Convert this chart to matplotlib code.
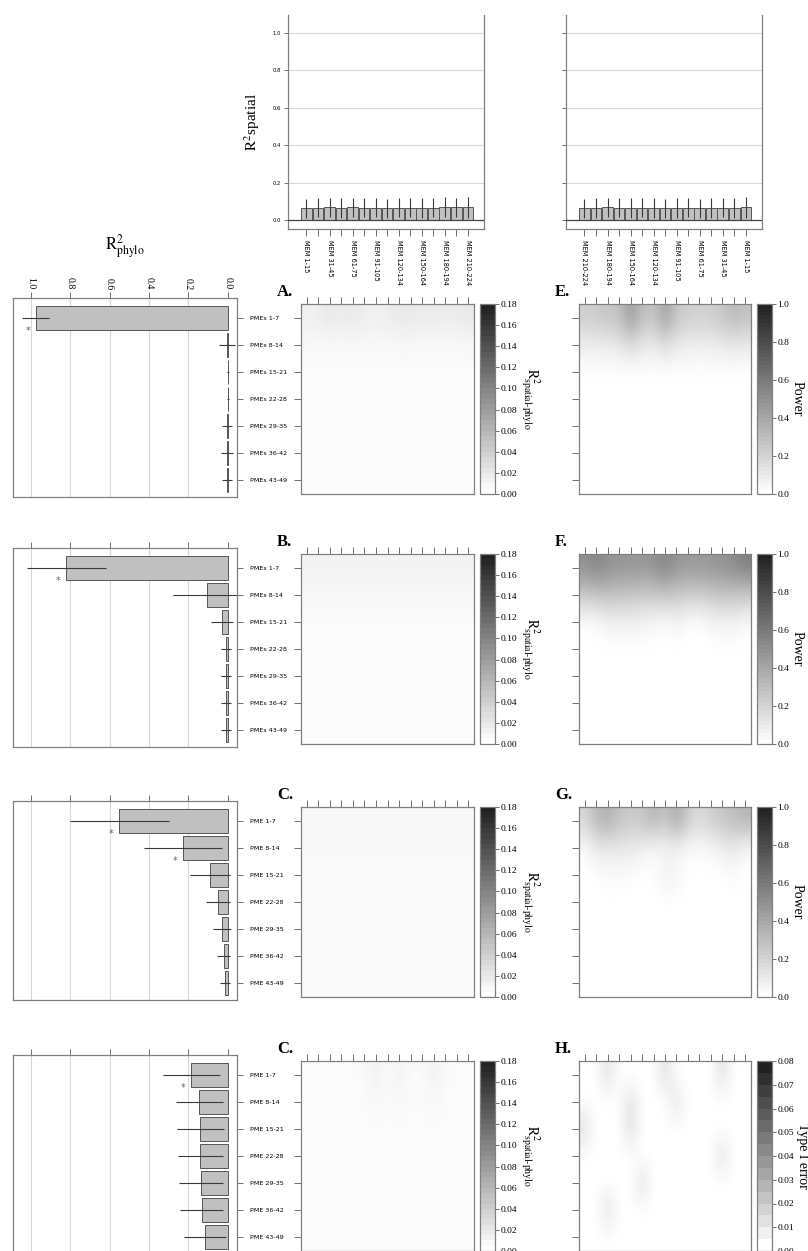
import numpy as np
import matplotlib
matplotlib.use('Agg')
import matplotlib.pyplot as plt
from matplotlib.colors import ListedColormap, Normalize
from matplotlib.cm import ScalarMappable

W, H = 808, 1251
SERIF = ['Liberation Serif', 'DejaVu Serif']
plt.rcParams['font.family'] = ['DejaVu Sans']
plt.rcParams['mathtext.fontset'] = 'stix'

# ---------------- data ----------------
mem_labels = ['MEM 1-15', 'MEM 16-30', 'MEM 31-45', 'MEM 46-60', 'MEM 61-75',
              'MEM 76-90', 'MEM 91-105', 'MEM 106-119', 'MEM 120-134', 'MEM 135-149',
              'MEM 150-164', 'MEM 165-179', 'MEM 180-194', 'MEM 195-209', 'MEM 210-224']
mem_labels_rev = mem_labels[::-1]

spatial_left = [0.063, 0.065, 0.068, 0.065, 0.067, 0.066, 0.065, 0.062, 0.066, 0.066,
                0.066, 0.066, 0.068, 0.067, 0.068]
spatial_left_err = [0.050, 0.051, 0.052, 0.053, 0.053, 0.052, 0.051, 0.052, 0.052, 0.051,
                    0.054, 0.052, 0.053, 0.053, 0.057]
spatial_right = [0.063, 0.064, 0.067, 0.066, 0.066, 0.066, 0.064, 0.062, 0.065, 0.065,
                 0.064, 0.065, 0.066, 0.065, 0.068]
spatial_right_err = [0.050, 0.052, 0.053, 0.052, 0.054, 0.052, 0.052, 0.051, 0.052, 0.051,
                     0.051, 0.052, 0.052, 0.052, 0.055]

pme_labels_s = ['PMEs 1-7', 'PMEs 8-14', 'PMEs 15-21', 'PMEs 22-28', 'PMEs 29-35',
                'PMEs 36-42', 'PMEs 43-49']
pme_labels = ['PME 1-7', 'PME 8-14', 'PME 15-21', 'PME 22-28', 'PME 29-35',
              'PME 36-42', 'PME 43-49']

phylo_A = [0.975, 0.006, 0.002, 0.002, 0.003, 0.003, 0.003]
phylo_A_err = [0.07, 0.04, 0.005, 0.005, 0.025, 0.03, 0.025]
stars_A = [True, False, False, False, False, False, False]

phylo_B = [0.82, 0.107, 0.03, 0.008, 0.008, 0.008, 0.008]
phylo_B_err = [0.20, 0.17, 0.057, 0.025, 0.025, 0.025, 0.025]
stars_B = [True, False, False, False, False, False, False]

phylo_C = [0.55, 0.228, 0.09, 0.05, 0.03, 0.022, 0.015]
phylo_C_err = [0.25, 0.20, 0.10, 0.063, 0.045, 0.035, 0.026]
stars_C = [True, True, False, False, False, False, False]

phylo_D = [0.185, 0.145, 0.14, 0.14, 0.137, 0.133, 0.116]
phylo_D_err = [0.145, 0.12, 0.12, 0.115, 0.11, 0.11, 0.105]
stars_D = [True, False, False, False, False, False, False]

z = [0.003] * 15
r2_A = [[0.012, 0.014, 0.019, 0.015, 0.019, 0.014, 0.012, 0.015, 0.018, 0.019, 0.015, 0.018, 0.015, 0.016, 0.019],
        [0.005] * 15, z, z, z, z, z]
r2_B = [[0.010] * 15, [0.006] * 15, z, z, z, z, z]
r2_C = [[0.006] * 15, [0.005] * 15, [0.004] * 15, [0.004] * 15, [0.004] * 15, [0.004] * 15, [0.004] * 15]
r2_D = [[0.003, 0.003, 0.003, 0.003, 0.003, 0.004, 0.012, 0.004, 0.011, 0.004, 0.004, 0.012, 0.004, 0.003, 0.003],
        [0.003, 0.003, 0.003, 0.003, 0.003, 0.003, 0.006, 0.003, 0.006, 0.003, 0.003, 0.006, 0.003, 0.003, 0.003],
        z, z, z, z, z]

zero = [0.0] * 15
pow_E = [[0.22, 0.24, 0.26, 0.28, 0.46, 0.30, 0.26, 0.44, 0.26, 0.22, 0.21, 0.22, 0.26, 0.32, 0.28],
         [0.08, 0.08, 0.09, 0.10, 0.16, 0.11, 0.09, 0.15, 0.09, 0.08, 0.07, 0.08, 0.09, 0.11, 0.09],
         zero, zero, zero, zero, zero]
pow_F = [[0.50, 0.56, 0.50, 0.48, 0.48, 0.47, 0.49, 0.56, 0.48, 0.46, 0.46, 0.48, 0.49, 0.52, 0.58],
         [0.24, 0.26, 0.28, 0.26, 0.26, 0.24, 0.24, 0.26, 0.24, 0.22, 0.22, 0.24, 0.26, 0.26, 0.24],
         [0.00, 0.01, 0.05, 0.06, 0.06, 0.05, 0.03, 0.01, 0.05, 0.01, 0.00, 0.04, 0.05, 0.05, 0.02],
         zero, zero, zero, zero]
pow_G = [[0.18, 0.32, 0.36, 0.28, 0.24, 0.26, 0.34, 0.26, 0.40, 0.24, 0.16, 0.22, 0.26, 0.30, 0.34],
         [0.02, 0.09, 0.10, 0.10, 0.09, 0.07, 0.03, 0.04, 0.04, 0.02, 0.02, 0.03, 0.07, 0.10, 0.03],
         [0.00, 0.00, 0.02, 0.02, 0.01, 0.00, 0.00, 0.07, 0.05, 0.00, 0.00, 0.00, 0.00, 0.02, 0.00],
         zero, zero, zero, zero]
t1_H = [[0, 0, 0.011, 0, 0, 0, 0, 0.011, 0, 0, 0, 0, 0.011, 0, 0],
        [0, 0, 0, 0, 0.011, 0, 0, 0, 0.010, 0, 0, 0, 0, 0, 0],
        [0.011, 0, 0, 0, 0.012, 0, 0, 0, 0, 0, 0, 0, 0, 0, 0],
        [0, 0, 0, 0, 0, 0, 0, 0, 0, 0, 0, 0, 0.011, 0, 0],
        [0, 0, 0, 0, 0, 0.011, 0, 0, 0, 0, 0, 0, 0, 0, 0],
        [0, 0, 0.011, 0, 0, 0, 0, 0, 0, 0, 0, 0, 0, 0, 0],
        [0] * 15]

r2_ticks = [0.00, 0.02, 0.04, 0.06, 0.08, 0.10, 0.12, 0.14, 0.16, 0.18]
pow_ticks = [0.0, 0.2, 0.4, 0.6, 0.8, 1.0]
t1_ticks = [0.00, 0.01, 0.02, 0.03, 0.04, 0.05, 0.06, 0.07, 0.08]
phylo_ticks = [1.0, 0.8, 0.6, 0.4, 0.2, 0.0]
spatial_ticks = [0.0, 0.2, 0.4, 0.6, 0.8, 1.0]

# ---------------- style ----------------
SPINE = '#808080'
TICKC = '#707070'
BARFACE = '#c0c0c0'
BAREDGE = '#555555'
ERRC = '#3a3a3a'
GRIDC = '#d8d8d8'


def gray_cmap(n):
    g = np.linspace(1.0, 0.13, n)
    return ListedColormap(np.stack([g, g, g], axis=1))


fig = plt.figure(figsize=(W / 100, H / 100), dpi=100)


def add_ax(x0, y0, x1, y1):
    return fig.add_axes([x0 / W, 1 - y1 / H, (x1 - x0) / W, (y1 - y0) / H])


def style_spines(ax, which=('left', 'right', 'top', 'bottom')):
    for k, s in ax.spines.items():
        s.set_visible(k in which)
        s.set_color(SPINE)
        s.set_linewidth(0.9)


# ---------------- top spatial bar charts ----------------
def spatial_bar(x0, x1, vals, errs, labels, show_ylabels):
    ax = add_ax(x0, 15, x1, 229)
    style_spines(ax, ('left', 'right', 'bottom'))
    xs = np.arange(len(vals))
    for yv in spatial_ticks[1:]:
        ax.axhline(yv, color=GRIDC, lw=0.8, zorder=0)
    ax.bar(xs, vals, width=0.92, color=BARFACE, edgecolor=BAREDGE, linewidth=0.7, zorder=2)
    ax.errorbar(xs, vals, yerr=errs, fmt='none', ecolor=ERRC, elinewidth=0.8, capsize=0, zorder=3)
    ax.axhline(0, color='#444444', lw=0.9, zorder=4)
    ax.set_xlim(-1.6, 15.4)
    ax.set_ylim(-0.048, 1.096)
    ax.set_xticks(xs)
    ax.set_xticklabels([lab if i % 2 == 0 else '' for i, lab in enumerate(labels)],
                       rotation=270, fontsize=4.8, va='top', ha='center')
    ax.tick_params(axis='x', direction='out', length=5, width=0.7, color=TICKC, pad=3)
    ax.set_yticks(spatial_ticks)
    if show_ylabels:
        ax.set_yticklabels(['%.1f' % v for v in spatial_ticks], fontsize=3.8)
    else:
        ax.set_yticklabels([])
    ax.tick_params(axis='y', direction='out', length=3, width=0.7, color=TICKC, pad=2)
    return ax


axs1 = spatial_bar(288, 484, spatial_left, spatial_left_err, mem_labels, True)
axs1.set_ylabel(r'$\mathrm{R}^2$spatial', fontsize=11, family=SERIF, labelpad=8)
spatial_bar(566, 762, spatial_right, spatial_right_err, mem_labels_rev, False)

# ---------------- rows ----------------
ROW = [0, 250, 503, 757]
left_data = [(phylo_A, phylo_A_err, stars_A, pme_labels_s),
             (phylo_B, phylo_B_err, stars_B, pme_labels_s),
             (phylo_C, phylo_C_err, stars_C, pme_labels),
             (phylo_D, phylo_D_err, stars_D, pme_labels)]
mid_data = [r2_A, r2_B, r2_C, r2_D]
right_data = [(pow_E, 'Power', pow_ticks, 1.0, 50),
              (pow_F, 'Power', pow_ticks, 1.0, 50),
              (pow_G, 'Power', pow_ticks, 1.0, 50),
              (t1_H, 'Type I error', t1_ticks, 0.08, 16)]
mid_letters = ['A.', 'B.', 'C.', 'C.']
right_letters = ['E.', 'F.', 'G.', 'H.']

r2_label = '$\\mathrm{R}^2_{\\mathrm{spatial\u2010phylo}}$'


def heatmap(x0, x1, top, bot, data, vmax, n, cx0, cx1, ticks, fmt, label, label_size):
    ax = add_ax(x0, top, x1, bot)
    style_spines(ax)
    arr = np.array(data, dtype=float)
    norm = Normalize(0, vmax)
    ax.imshow(arr, cmap=gray_cmap(256), norm=norm, interpolation='bicubic',
              aspect='auto', extent=(-0.5, 14.5, 6.5, -0.5))
    ax.set_xlim(-0.5, 14.5)
    ax.set_ylim(6.5, -0.5)
    ax.set_xticks(np.arange(15))
    ax.set_yticks(np.arange(7))
    ax.tick_params(axis='x', top=True, bottom=False, labeltop=False, labelbottom=False,
                   direction='out', length=5, width=0.7, color=TICKC)
    ax.tick_params(axis='y', left=True, labelleft=False, direction='out', length=5,
                   width=0.7, color=TICKC)
    cax = add_ax(cx0, top, cx1, bot)
    cb = fig.colorbar(ScalarMappable(norm=norm, cmap=gray_cmap(n)), cax=cax, ticks=ticks)
    cb.outline.set_edgecolor(SPINE)
    cb.outline.set_linewidth(0.9)
    cax.set_yticklabels([fmt % t for t in ticks], family=SERIF, fontsize=6.8)
    cax.tick_params(direction='out', length=3, width=0.7, color=TICKC, pad=1)
    cax.set_ylabel(label, rotation=270, fontsize=label_size, family=SERIF, va='bottom',
                   labelpad=1)
    return ax


for r in range(4):
    d = ROW[r]
    vals, errs, stars, labs = left_data[r]
    # left horizontal bar chart
    ax = add_ax(13, 298 + d, 237, 497 + d)
    style_spines(ax)
    ys = np.arange(7)
    for xv in phylo_ticks[:-1]:
        ax.axvline(xv, color=GRIDC, lw=0.8, zorder=0)
    ax.barh(ys, vals, height=0.9, color=BARFACE, edgecolor=BAREDGE, linewidth=0.7, zorder=2)
    ax.errorbar(vals, ys, xerr=errs, fmt='none', ecolor=ERRC, elinewidth=0.8, capsize=0, zorder=3)
    for yv, v, s in zip(ys, vals, stars):
        if s:
            ax.text(v + 0.04, yv + 0.5, '*', ha='center', va='center', fontsize=7, color='#666666')
    ax.set_xlim(1.09, -0.046)
    ax.set_ylim(6.63, -0.74)
    ax.set_xticks(phylo_ticks)
    ax.xaxis.tick_top()
    ax.tick_params(axis='x', direction='out', length=4, width=0.7, color=TICKC, pad=2,
                   labeltop=(r == 0), labelbottom=False)
    if r == 0:
        ax.set_xticklabels(['%.1f' % v for v in phylo_ticks], rotation=270, family=SERIF,
                           fontsize=7, va='bottom')
        ax.set_title('$\\mathrm{R}^2_{\\mathrm{phylo}}$', fontsize=12, pad=20)
    ax.yaxis.tick_right()
    ax.set_yticks(ys)
    ax.set_yticklabels(labs, fontsize=4.6)
    ax.tick_params(axis='y', direction='out', length=4, width=0.7, color=TICKC, pad=5)

    # middle heatmap
    heatmap(301, 474, 304 + d, 494 + d, mid_data[r], 0.18, 36, 480, 495,
            r2_ticks, '%.2f', r2_label, 10)
    fig.text(277 / W, 1 - (300 + d) / H, mid_letters[r], family=SERIF, fontweight='bold',
             fontsize=12, ha='left', va='bottom')

    # right heatmap
    dat, lab, ticks, vmax, n = right_data[r]
    fmt = '%.1f' if vmax == 1.0 else '%.2f'
    heatmap(579, 751, 304 + d, 494 + d, dat, vmax, n, 757, 772, ticks, fmt, lab, 10)
    fig.text(555 / W, 1 - (300 + d) / H, right_letters[r], family=SERIF, fontweight='bold',
             fontsize=12, ha='left', va='bottom')

fig.savefig('out.png', dpi=100)
